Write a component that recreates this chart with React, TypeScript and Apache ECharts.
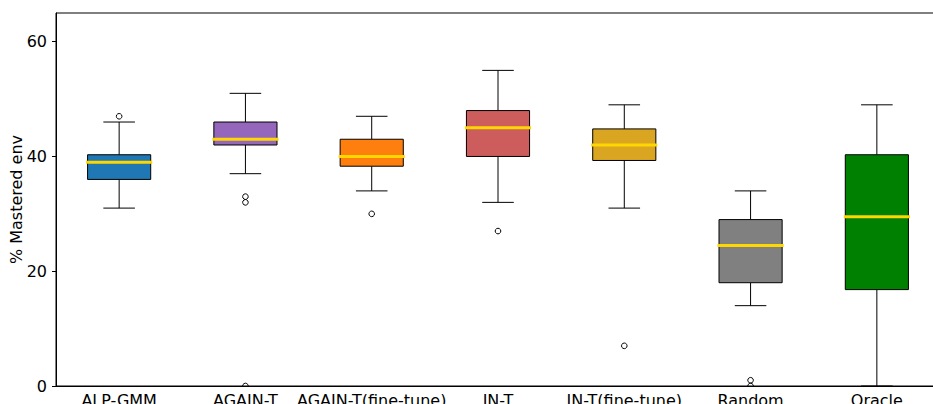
import React, { useEffect, useRef } from "react";
import * as echarts from "echarts";

const categories = [
  "ALP-GMM",
  "AGAIN-T",
  "AGAIN-T(fine-tune)",
  "IN-T",
  "IN-T(fine-tune)",
  "Random",
  "Oracle",
];
const lowerWhisker = [31, 37, 34, 32, 31, 14, 0];
const q1 = [36, 42, 38.3, 40, 39.3, 18, 16.8];
const median = [39, 43, 40, 45, 42, 24.5, 29.5];
const q3 = [40.3, 46, 43, 48, 44.8, 29, 40.3];
const upperWhisker = [46, 51, 47, 55, 49, 34, 49];
const outliers: [number, number][] = [
  [0, 47],
  [1, 33],
  [1, 32],
  [1, 0],
  [2, 30],
  [3, 27],
  [4, 7],
  [5, 1],
  [5, 0],
];
const boxColors = ["#1f77b4", "#9467bd", "#ff7f0e", "#cd5c5c", "#daa520", "#808080", "#008000"];
const yTicks = [0, 20, 40, 60];

const FONT = "DejaVu Sans";

export default function App() {
  const ref = useRef<HTMLDivElement>(null);
  useEffect(() => {
    if (!ref.current) return;
    const chart = echarts.init(ref.current, undefined, { renderer: "svg" });
    const boxData = categories.map((_, i) => [
      i,
      lowerWhisker[i],
      q1[i],
      median[i],
      q3[i],
      upperWhisker[i],
    ]);
    chart.setOption({
      animation: false,
      grid: {
        left: 56,
        right: -7,
        top: 13,
        bottom: 18,
        show: true,
        borderColor: "#000",
        borderWidth: 1,
        containLabel: false,
        outerBoundsMode: "none",
      },
      xAxis: {
        type: "category",
        data: categories,
        boundaryGap: true,
        axisLine: { lineStyle: { color: "#000", width: 1 } },
        axisTick: { alignWithLabel: true, length: 4, lineStyle: { color: "#000" } },
        axisLabel: {
          interval: 0,
          color: "#000",
          fontSize: 16,
          fontFamily: FONT,
          margin: 6,
        },
        splitLine: { show: false },
      },
      yAxis: {
        type: "value",
        min: 0,
        max: 65,
        interval: 20,
        name: "% Mastered env",
        nameLocation: "middle",
        nameGap: 32,
        nameMoveOverlap: false,
        nameTextStyle: { color: "#000", fontSize: 16, fontFamily: FONT },
        axisLine: { show: true, lineStyle: { color: "#000", width: 1 } },
        axisTick: { show: true, length: 4, lineStyle: { color: "#000" }, customValues: yTicks },
        axisLabel: {
          color: "#000",
          fontSize: 16,
          fontFamily: FONT,
          margin: 9,
          customValues: yTicks,
        },
        splitLine: { show: false },
      },
      series: [
        {
          type: "custom",
          clip: true,
          data: boxData,
          encode: { x: 0, y: [1, 2, 3, 4, 5] },
          renderItem: (params: any, api: any) => {
            const idx = api.value(0);
            const cx = api.coord([idx, 0])[0];
            const band = api.size([1, 0])[0];
            const half = band * 0.25;
            const capHalf = band * 0.125;
            const yLo = api.coord([idx, api.value(1)])[1];
            const yQ1 = api.coord([idx, api.value(2)])[1];
            const yMed = api.coord([idx, api.value(3)])[1];
            const yQ3 = api.coord([idx, api.value(4)])[1];
            const yHi = api.coord([idx, api.value(5)])[1];
            const ls = { stroke: "#000", lineWidth: 1, fill: null };
            return {
              type: "group",
              children: [
                { type: "line", shape: { x1: cx, y1: yQ1, x2: cx, y2: yLo }, style: ls },
                { type: "line", shape: { x1: cx, y1: yQ3, x2: cx, y2: yHi }, style: ls },
                { type: "line", shape: { x1: cx - capHalf, y1: yLo, x2: cx + capHalf, y2: yLo }, style: ls },
                { type: "line", shape: { x1: cx - capHalf, y1: yHi, x2: cx + capHalf, y2: yHi }, style: ls },
                {
                  type: "rect",
                  shape: { x: cx - half, y: yQ3, width: half * 2, height: yQ1 - yQ3 },
                  style: { fill: boxColors[idx], stroke: "#000", lineWidth: 1 },
                },
                {
                  type: "line",
                  shape: { x1: cx - half, y1: yMed, x2: cx + half, y2: yMed },
                  style: { stroke: "#FFD700", lineWidth: 3, lineCap: "square" },
                },
              ],
            };
          },
        },
        {
          type: "custom",
          clip: true,
          data: outliers,
          encode: { x: 0, y: 1 },
          renderItem: (params: any, api: any) => {
            const p = api.coord([api.value(0), api.value(1)]);
            return {
              type: "circle",
              shape: { cx: p[0], cy: p[1], r: 2.8 },
              style: { fill: "none", stroke: "#000", lineWidth: 1 },
            };
          },
        },
      ],
    });
    return () => chart.dispose();
  }, []);
  return (
    <div
      ref={ref}
      style={{ position: "absolute", left: 0, top: 0, width: 933, height: 404, background: "#fff" }}
    />
  );
}
